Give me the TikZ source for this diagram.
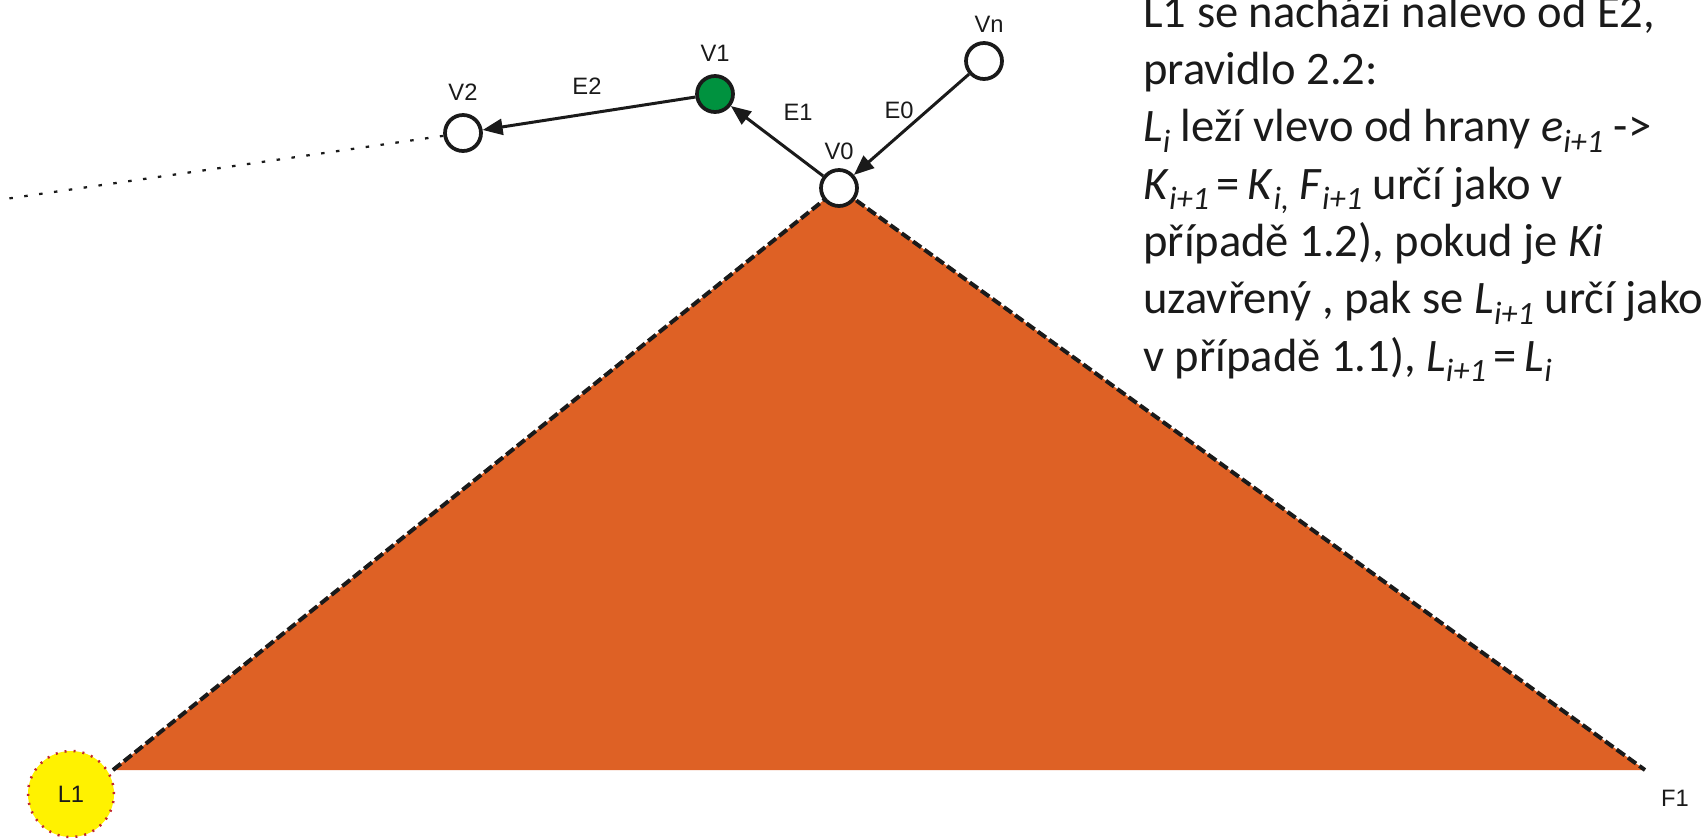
\documentclass[tikz,border=0pt]{standalone}
\usepackage{fontspec}
\setmainfont{Liberation Sans}
\newfontfamily\notefont{Carlito}
\usetikzlibrary{arrows.meta,positioning}
\definecolor{ink}{HTML}{1A1A1A}
\definecolor{land}{HTML}{DE6125}
\definecolor{visit}{HTML}{00923F}
\definecolor{lamp}{HTML}{FFF200}
\definecolor{rim}{HTML}{C1272D}
\newcommand{\idx}[1]{\raisebox{-0.23em}{\fontsize{18.5}{18.5}\selectfont\itshape #1}}

\begin{document}
\begin{tikzpicture}[
  x=0.02cm, y=-0.02cm,
  vertex/.style={circle, draw=ink, line width=0.075cm, fill=white, minimum size=0.72cm, inner sep=0pt},
  lbl/.style={font=\fontsize{13.5}{13.5}\selectfont, text=ink, inner sep=0pt},
  arr/.style={-{Triangle[length=0.4cm, width=0.32cm]}, line width=0.06cm, ink},
  side/.style={ink, line width=0.08cm, dash pattern=on 0.2cm off 0.08cm},
  trail/.style={ink, line width=0.045cm, dash pattern=on 0.07cm off 0.23cm},
  lampnode/.style={circle, fill=lamp, draw=rim, line width=0.05cm, dash pattern=on 0.04cm off 0.14cm, minimum size=1.72cm, inner sep=0pt, font=\fontsize{13.5}{13.5}\selectfont, text=ink},
  note/.style={font=\notefont\fontsize{26.5}{32.6}\selectfont, align=left, anchor=base west, inner sep=0pt, text=ink}
]
  \useasboundingbox (0,0) rectangle (1701,839);
  \clip (0,0) rectangle (1701,839);
  \coordinate (apex) at (839,188);
  \coordinate (lft) at (113,770);
  \coordinate (rgt) at (1645,770);
  \coordinate (far) at (5,199);
  \fill[land] (apex) -- (lft) -- (rgt) -- cycle;
  \draw[side] (lft) -- (apex) -- (rgt);
  \node[vertex] (v0) at (839,188) {};
  \node[vertex, fill=visit] (v1) at (715,94) {};
  \node[vertex] (v2) at (463,133) {};
  \node[vertex] (vn) at (984,61) {};
  \node[lbl, above=0.16cm of v0] (v0l) {V0};
  \node[lbl, above=0.25cm of v1] (v1l) {V1};
  \node[lbl, above=0.25cm of v2] (v2l) {V2};
  \node[lbl, above=0.16cm of vn, xshift=0.1cm] (vnl) {Vn};
  \node[lbl] (e2) at (587,86) {E2};
  \node[lbl] (e1) at (798,112) {E1};
  \node[lbl] (e0) at (899,110) {E0};
  \draw[arr] (v1) -- (v2);
  \draw[arr] (v0) -- (v1);
  \draw[arr] (vn) -- (v0);
  \draw[trail] (v2) -- (far);
  \node[lampnode] (l1) at (71,794) {L1};
  \node[lbl] (f1) at (1675,798) {F1};
  \node[note] (rule) at (1143,371) {L1 se nachází nalevo od E2,\\
    pravidlo 2.2:\\
    \textit{L}\idx{i} leží vlevo od hrany \textit{e}\idx{i+1} ->\\
    \textit{K}\idx{i+1}\,=\,\textit{K}\idx{i,} \textit{F}\idx{i+1} určí jako v\\
    případě 1.2), pokud je \textit{Ki}\\
    uzavřený , pak se \textit{L}\idx{i+1} určí jako\\
    v případě 1.1), \textit{L}\idx{i+1}\,=\,\textit{L}\idx{i}};
\end{tikzpicture}
\end{document}
